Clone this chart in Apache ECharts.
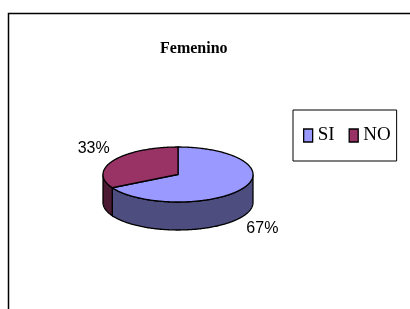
<!DOCTYPE html>
<html>
<head>
<meta charset="utf-8">
<script src="https://cdn.jsdelivr.net/npm/echarts@6/dist/echarts.min.js"></script>
<style>
  html, body { margin: 0; padding: 0; background: #fff; }
  #main { width: 410px; height: 309px; }
</style>
</head>
<body>
<div id="main"></div>
<script>
var chartDom = document.getElementById('main');
var myChart = echarts.init(chartDom);
var option;

// datos
const categories = ['SI', 'NO'];
const values = [67, 33];
const labels = ['67%', '33%'];

// colores (cara superior / lateral)
const topColors = ['#9999FF', '#993366'];
const sideColors = ['#4D4D80', '#4D1A33'];

// geometria del pastel 3D
const center = [178, 174.5];
const radius = [75, 27.5];
const depth = 28;

const total = values.reduce((a, b) => a + b, 0);

// punto sobre la elipse, angulo en grados desde las 12 en sentido horario
const pt = (deg, dy) => {
  const r = deg * Math.PI / 180;
  return [center[0] + radius[0] * Math.sin(r), center[1] - radius[1] * Math.cos(r) + dy];
};

const arc = (a, b, dy) => {
  const pts = [];
  const n = Math.max(2, Math.ceil(Math.abs(b - a)));
  for (let i = 0; i <= n; i++) pts.push(pt(a + (b - a) * i / n, dy));
  return pts;
};

function renderItem(params, api) {
  const idx = api.value(3);
  const a = api.value(1) / api.value(2) * 360;
  const b = (api.value(1) + api.value(0)) / api.value(2) * 360;
  const children = [];

  // lateral visible (mitad frontal: 90..270)
  const sa = Math.max(a, 90), sb = Math.min(b, 270);
  if (sb > sa) {
    children.push({
      type: 'polygon',
      z2: 1,
      shape: { points: arc(sa, sb, 0).concat(arc(sb, sa, depth)) },
      style: { fill: sideColors[idx], stroke: '#000', lineWidth: 1.3 }
    });
  }

  // cara superior
  children.push({
    type: 'polygon',
    z2: 2,
    shape: { points: [center.slice()].concat(arc(a, b, 0)) },
    style: { fill: topColors[idx], stroke: '#000', lineWidth: 1.3 }
  });

  // etiqueta
  const m = (a + b) / 2;
  const mr = m * Math.PI / 180;
  const base = pt(m, Math.cos(mr) < 0 ? depth : 0);
  const d = 23;
  children.push({
    type: 'text',
    z2: 3,
    x: base[0] + d * Math.sin(mr),
    y: base[1] - d * Math.cos(mr),
    style: {
      text: labels[idx],
      align: 'center',
      verticalAlign: 'middle',
      fill: '#000',
      font: '16px "Liberation Sans", Arial, sans-serif'
    }
  });

  return { type: 'group', children: children };
}

let start = 0;
const seriesList = categories.map((name, i) => {
  const s = {
    type: 'custom',
    name: name,
    coordinateSystem: 'none',
    renderItem: renderItem,
    itemStyle: { color: topColors[i] },
    data: [[values[i], start, total, i]],
    silent: true
  };
  start += values[i];
  return s;
});

option = {
  animation: false,
  backgroundColor: '#fff',
  title: {
    text: 'Femenino',
    left: 160,
    top: 41,
    padding: 0,
    textStyle: {
      fontFamily: '"Liberation Serif", "Times New Roman", serif',
      fontWeight: 'bold',
      fontSize: 16,
      color: '#000'
    }
  },
  legend: {
    left: 293,
    top: 110,
    orient: 'horizontal',
    padding: [16, 6, 16, 10],
    borderColor: '#000',
    borderWidth: 1,
    backgroundColor: '#fff',
    itemWidth: 9,
    itemHeight: 13,
    itemGap: 14,
    icon: 'rect',
    selectedMode: false,
    itemStyle: { borderColor: '#000', borderWidth: 1.3 },
    textStyle: {
      fontFamily: '"Liberation Serif", "Times New Roman", serif',
      fontSize: 19,
      color: '#000'
    },
    data: categories
  },
  graphic: [{
    type: 'rect',
    silent: true,
    shape: { x: 8.5, y: 13.5, width: 420, height: 320 },
    style: { fill: 'none', stroke: '#000', lineWidth: 1.5 }
  }],
  series: seriesList
};

option && myChart.setOption(option);
</script>
</body>
</html>
